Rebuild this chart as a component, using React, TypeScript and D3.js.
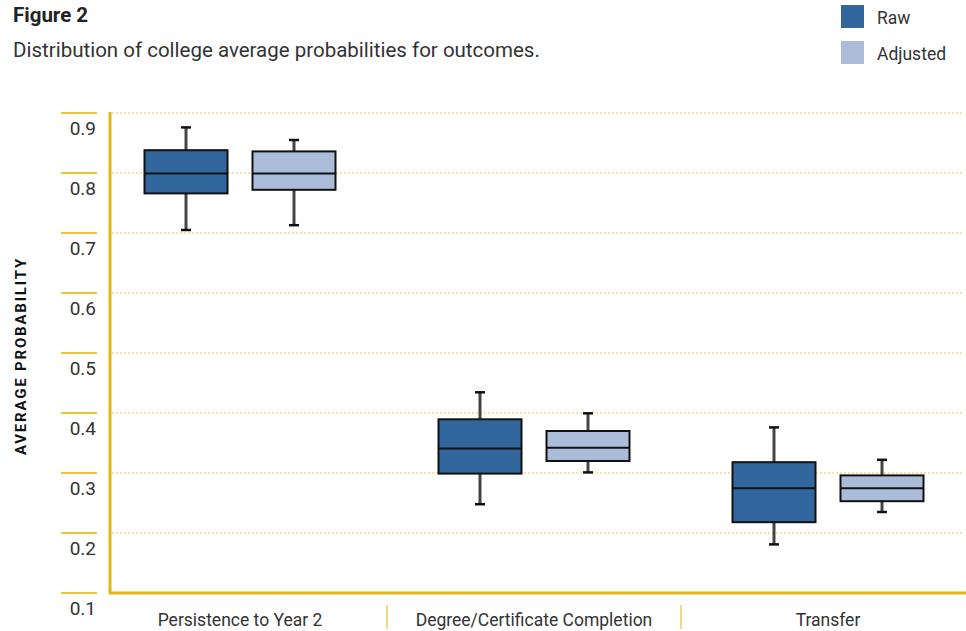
import React from "react";
import * as d3 from "d3";

const categories = ["Persistence to Year 2", "Degree/Certificate Completion", "Transfer"];
const seriesNames = ["Raw", "Adjusted"];
// [whiskerLow, q1, median, q3, whiskerHigh]
const rawStats = [
  [0.705, 0.766, 0.799, 0.838, 0.876],
  [0.248, 0.299, 0.341, 0.3895, 0.4345],
  [0.181, 0.218, 0.2745, 0.318, 0.376],
];
const adjustedStats = [
  [0.713, 0.772, 0.799, 0.836, 0.855],
  [0.301, 0.32, 0.342, 0.37, 0.3995],
  [0.235, 0.253, 0.2745, 0.296, 0.322],
];
const yTicks = [0.1, 0.2, 0.3, 0.4, 0.5, 0.6, 0.7, 0.8, 0.9];
const colors = ["#31679d", "#abbcd9"];

const W = 966;
const H = 631;
const FONT = "Roboto, 'Open Sans', sans-serif";

export default function App() {
  const y = d3.scaleLinear().domain([0.1, 0.9]).range([593, 113]);
  const x = d3.scaleBand().domain(categories).range([93, 975]);
  const boxW = 83;
  const gap = 25;
  const series = [rawStats, adjustedStats];

  return (
    <svg width={W} height={H} style={{ position: "absolute", left: 0, top: 0 }}>
      <rect width={W} height={H} fill="#fff" />
      <text x={13} y={22} fontFamily={FONT} fontWeight={700} fontSize={20.5} fill="#222">Figure 2</text>
      <text x={13} y={57} fontFamily={FONT} fontSize={20.5} fill="#333">
        Distribution of college average probabilities for outcomes.
      </text>
      {seriesNames.map((s, i) => (
        <g key={s}>
          <rect x={841} y={5 + i * 36} width={23} height={23} fill={colors[i]} />
          <text x={877} y={18 + i * 36} dy="0.35em" fontFamily={FONT} fontSize={17.5} fill="#333">{s}</text>
        </g>
      ))}
      <text
        transform={`translate(26,${356}) rotate(-90)`}
        textAnchor="middle"
        fontFamily={FONT}
        fontWeight={700}
        fontSize={15}
        letterSpacing={1.8}
        fill="#111"
      >
        AVERAGE PROBABILITY
      </text>
      {yTicks.map((t) => (
        <g key={t}>
          <line x1={61} x2={97} y1={y(t)} y2={y(t)} stroke="#e6c43c" strokeWidth={2} />
          <text x={96} y={y(t) + 15} dy="0.35em" textAnchor="end" fontFamily={FONT} fontSize={19} fill="#333">
            {d3.format(".1f")(t)}
          </text>
          {t > 0.1 && (
            <line x1={112} x2={962} y1={y(t)} y2={y(t)} stroke="#f1d98a" strokeWidth={1.5} strokeDasharray="2,2" />
          )}
        </g>
      ))}
      <line x1={110} x2={110} y1={112} y2={594} stroke="#e2b714" strokeWidth={3} />
      <line x1={109} x2={966} y1={593} y2={593} stroke="#e2b714" strokeWidth={3} />
      {categories.slice(1).map((c) => (
        <line key={c} x1={x(c)!} x2={x(c)!} y1={605} y2={629} stroke="#f1d98a" strokeWidth={2} />
      ))}
      {categories.map((c) => (
        <text key={c} x={x(c)! + x.bandwidth() / 2} y={626} textAnchor="middle" fontFamily={FONT} fontSize={17.5} fill="#333">
          {c}
        </text>
      ))}
      {categories.map((c, ci) => {
        const center = x(c)! + x.bandwidth() / 2;
        return series.map((st, si) => {
          const s = st[ci];
          const x0 = si === 0 ? center - gap / 2 - boxW : center + gap / 2;
          const cx = x0 + boxW / 2;
          return (
            <g key={c + si}>
              <line x1={cx} x2={cx} y1={y(s[0])} y2={y(s[4])} stroke="#444" strokeWidth={3} />
              <line x1={cx - 5} x2={cx + 5} y1={y(s[0])} y2={y(s[0])} stroke="#111" strokeWidth={2.5} />
              <line x1={cx - 5} x2={cx + 5} y1={y(s[4])} y2={y(s[4])} stroke="#111" strokeWidth={2.5} />
              <rect x={x0} y={y(s[3])} width={boxW} height={y(s[1]) - y(s[3])} fill={colors[si]} stroke="#111" strokeWidth={2} />
              <line x1={x0} x2={x0 + boxW} y1={y(s[2])} y2={y(s[2])} stroke="#111" strokeWidth={2} />
            </g>
          );
        });
      })}
    </svg>
  );
}
